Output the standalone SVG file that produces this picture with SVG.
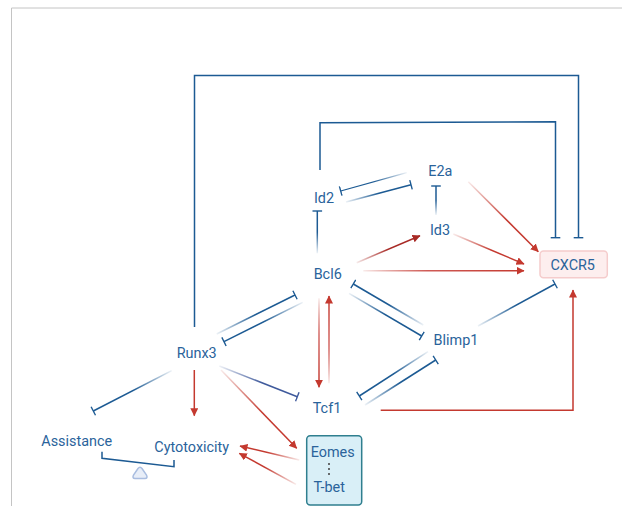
<svg xmlns="http://www.w3.org/2000/svg" width="622" height="506" viewBox="0 0 622 506">
<style>
text{font-family:Roboto,"Liberation Sans",sans-serif;font-size:14.4px;fill:#2a639b;text-anchor:middle}
.c{fill:none;stroke-width:1.5}
.b{stroke:#1c5a93}
.r{stroke:#c4392f}
.tb{marker-end:url(#tbar)}
.ar{marker-end:url(#arrow)}
</style>
<defs>
<marker id="tbar" markerUnits="userSpaceOnUse" markerWidth="4" markerHeight="12" refX="1" refY="6" orient="auto"><path d="M1 1.2V10.8" stroke="#1c5a93" stroke-width="1.4" fill="none"/></marker>
<marker id="tbarP" markerUnits="userSpaceOnUse" markerWidth="4" markerHeight="12" refX="1" refY="6" orient="auto"><path d="M1 1.2V10.8" stroke="#3f5a9c" stroke-width="1.4" fill="none"/></marker>
<marker id="arrow" markerUnits="userSpaceOnUse" markerWidth="9" markerHeight="9" refX="7.5" refY="4" orient="auto"><path d="M0 0L8 4L0 8Z" fill="#c4392f"/></marker>
<marker id="arrowD" markerUnits="userSpaceOnUse" markerWidth="9" markerHeight="9" refX="7.5" refY="4" orient="auto"><path d="M0 0L8 4L0 8Z" fill="#a82a26"/></marker>
<linearGradient id="gb"><stop offset="0" stop-color="#1c5a93" stop-opacity=".08"/><stop offset=".5" stop-color="#1c5a93"/></linearGradient>
<linearGradient id="gr"><stop offset="0" stop-color="#c4392f" stop-opacity=".1"/><stop offset=".55" stop-color="#c4392f"/></linearGradient>
<linearGradient id="g1" href="#gb" gradientUnits="userSpaceOnUse" x1="406.7" y1="172.7" x2="340.7" y2="191"/>
<linearGradient id="g2" href="#gb" gradientUnits="userSpaceOnUse" x1="346" y1="202" x2="411" y2="184.7"/>
<linearGradient id="g3" href="#gb" gradientUnits="userSpaceOnUse" x1="436" y1="215" x2="436" y2="186"/>
<linearGradient id="g4" href="#gb" gradientUnits="userSpaceOnUse" x1="317.3" y1="253.3" x2="317.3" y2="211"/>
<linearGradient id="g5" href="#gr" gradientUnits="userSpaceOnUse" x1="468.3" y1="181.7" x2="538.3" y2="251.7"/>
<linearGradient id="g6" href="#gr" gradientUnits="userSpaceOnUse" x1="453.3" y1="234" x2="524" y2="264"/>
<linearGradient id="g7" gradientUnits="userSpaceOnUse" x1="356.7" y1="262.7" x2="420" y2="235.7"><stop offset="0" stop-color="#a82a26" stop-opacity=".1"/><stop offset=".5" stop-color="#a82a26"/></linearGradient>
<linearGradient id="g8" gradientUnits="userSpaceOnUse" x1="363.3" y1="270.7" x2="524" y2="270.7"><stop offset="0" stop-color="#c4392f" stop-opacity=".1"/><stop offset=".4" stop-color="#cf5a55"/><stop offset="1" stop-color="#c4392f"/></linearGradient>
<linearGradient id="g9" href="#gb" gradientUnits="userSpaceOnUse" x1="478" y1="326" x2="555" y2="284"/>
<linearGradient id="g10" href="#gb" gradientUnits="userSpaceOnUse" x1="216.7" y1="334" x2="295" y2="295"/>
<linearGradient id="g11" href="#gb" gradientUnits="userSpaceOnUse" x1="302.7" y1="302.3" x2="224" y2="341.7"/>
<linearGradient id="g12" gradientUnits="userSpaceOnUse" x1="319" y1="298.3" x2="319" y2="387.3"><stop offset="0" stop-color="#c4392f" stop-opacity=".1"/><stop offset=".4" stop-color="#d46a66"/><stop offset="1" stop-color="#c4392f"/></linearGradient>
<linearGradient id="g13" gradientUnits="userSpaceOnUse" x1="329" y1="383.3" x2="329" y2="296"><stop offset="0" stop-color="#c4392f" stop-opacity=".1"/><stop offset=".4" stop-color="#d46a66"/><stop offset="1" stop-color="#c4392f"/></linearGradient>
<linearGradient id="g14" href="#gb" gradientUnits="userSpaceOnUse" x1="423.3" y1="325" x2="353.3" y2="284"/>
<linearGradient id="g15" href="#gb" gradientUnits="userSpaceOnUse" x1="349" y1="293.3" x2="421.7" y2="336"/>
<linearGradient id="g16" href="#gb" gradientUnits="userSpaceOnUse" x1="428" y1="351.7" x2="359.3" y2="396"/>
<linearGradient id="g17" href="#gb" gradientUnits="userSpaceOnUse" x1="365" y1="405" x2="435.7" y2="360"/>
<linearGradient id="g18" gradientUnits="userSpaceOnUse" x1="219.3" y1="366" x2="297.3" y2="396.7"><stop offset="0" stop-color="#3f5a9c" stop-opacity=".08"/><stop offset=".55" stop-color="#3f5a9c"/></linearGradient>
<linearGradient id="g19" href="#gb" gradientUnits="userSpaceOnUse" x1="171.7" y1="370.7" x2="93.3" y2="411"/>
<linearGradient id="g20" href="#gr" gradientUnits="userSpaceOnUse" x1="221" y1="370" x2="296.7" y2="448.3"/>
<linearGradient id="g21" href="#gr" gradientUnits="userSpaceOnUse" x1="299.3" y1="460" x2="240" y2="446"/>
<linearGradient id="g22" href="#gr" gradientUnits="userSpaceOnUse" x1="296" y1="484.3" x2="239.3" y2="453.3"/>
</defs>
<rect width="622" height="506" fill="#fff"/>
<path d="M622 8H11.5V506" fill="none" stroke="#c4c4c4" stroke-width="1"/>
<g id="connectors">
<path class="c b tb" d="M194.5 327V75.5H578.5V237.7"/>
<path class="c b tb" d="M320 170V122.7L555.5 121.7V237.7"/>
<path class="c" style="stroke:url(#g1);stroke-width:1.2" marker-end="url(#tbar)" d="M406.7 172.7L340.7 191"/>
<path class="c tb" stroke="url(#g2)" d="M346 202L411 184.7"/>
<path class="c tb" stroke="url(#g3)" d="M436 215V186"/>
<path class="c tb" stroke="url(#g4)" d="M317.3 253.3V211"/>
<path class="c ar" stroke="url(#g5)" d="M468.3 181.7L538.3 251.7"/>
<path class="c ar" stroke="url(#g6)" d="M453.3 234L524 264"/>
<path class="c" stroke="url(#g7)" marker-end="url(#arrowD)" d="M356.7 262.7L420 235.7"/>
<path class="c ar" stroke="url(#g8)" d="M363.3 270.7H524"/>
<path class="c tb" stroke="url(#g9)" d="M478 326L555 284"/>
<path class="c r ar" d="M380.7 410.3H573V290"/>
<path class="c tb" stroke="url(#g10)" d="M216.7 334L295 295"/>
<path class="c tb" stroke="url(#g11)" d="M302.7 302.3L224 341.7"/>
<path class="c ar" stroke="url(#g12)" d="M319 298.3V387.3"/>
<path class="c ar" stroke="url(#g13)" d="M329 383.3V296"/>
<path class="c tb" stroke="url(#g14)" d="M423.3 325L353.3 284"/>
<path class="c tb" stroke="url(#g15)" d="M349 293.3L421.7 336"/>
<path class="c tb" stroke="url(#g16)" d="M428 351.7L359.3 396"/>
<path class="c tb" stroke="url(#g17)" d="M365 405L435.7 360"/>
<path class="c" stroke="url(#g18)" marker-end="url(#tbarP)" d="M219.3 366L297.3 396.7"/>
<path class="c tb" stroke="url(#g19)" d="M171.7 370.7L93.3 411"/>
<path class="c r ar" d="M194.3 370V415.7"/>
<path class="c ar" stroke="url(#g20)" d="M221 370L296.7 448.3"/>
<path class="c ar" stroke="url(#g21)" d="M299.3 460L240 446"/>
<path class="c ar" stroke="url(#g22)" d="M296 484.3L239.3 453.3"/>
</g>
<g id="balance">
<path d="M102 451.7V458.3L174 466.7V460" fill="none" stroke="#1c5a93" stroke-width="1.5"/>
<path d="M138 468.5Q140 466 142 468.5L146.5 475Q148 478.5 145 478.5H135Q132 478.5 133.5 475Z" fill="#e8eef8" stroke="#a9bde0" stroke-width="1.5"/>
</g>
<g id="node-e2a"><text x="440.3" y="176">E2a</text></g>
<g id="node-id2"><text x="324" y="202.5">Id2</text></g>
<g id="node-id3"><text x="440" y="234.5">Id3</text></g>
<g id="node-bcl6"><text x="327.7" y="279">Bcl6</text></g>
<g id="node-cxcr5"><rect x="540" y="251" width="67.3" height="26.7" rx="3.5" fill="#fdeeee" stroke="#f5cccc" stroke-width="1.5"/><text x="572.7" y="270">CXCR5</text></g>
<g id="node-blimp1"><text x="456" y="345">Blimp1</text></g>
<g id="node-runx3"><text x="196.7" y="358">Runx3</text></g>
<g id="node-tcf1"><text x="327" y="413">Tcf1</text></g>
<g id="node-assistance"><text x="76.7" y="446">Assistance</text></g>
<g id="node-cytotoxicity"><text x="191.7" y="451.5">Cytotoxicity</text></g>
<g id="node-eomes-tbet"><rect x="306.7" y="435.7" width="55" height="69.3" rx="3.5" fill="#d9eff7" stroke="#2f7f8f" stroke-width="1.5"/><text x="332.7" y="457">Eomes</text><path d="M329 463V476" stroke="#4a4a4a" stroke-width="1.6" stroke-dasharray="2 3" fill="none"/><text x="329.3" y="492">T-bet</text></g>
</svg>
